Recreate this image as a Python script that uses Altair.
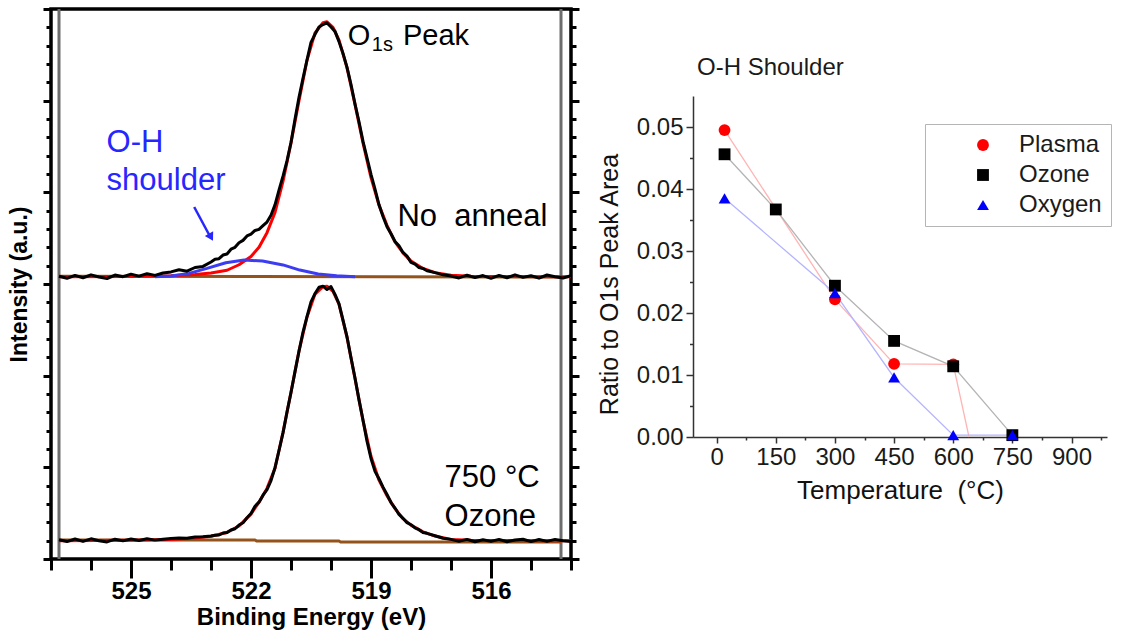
import altair as alt
import pandas as pd

FONT = "Liberation Sans"
TXT_BLUE = "#2626ff"

# ---------------- left panel: O1s XPS spectra ----------------
energy_ev = [526.8, 526.6, 526.4, 526.2, 526.0, 525.8, 525.6, 525.4, 525.2, 525.0,
             524.8, 524.6, 524.4, 524.2, 524.0, 523.8, 523.6, 523.4, 523.2,
             523.0, 522.9, 522.8, 522.7, 522.6, 522.5, 522.4, 522.3, 522.2, 522.1,
             522.0, 521.9, 521.8, 521.7, 521.6, 521.5, 521.4, 521.3, 521.2, 521.1,
             521.0, 520.9, 520.8, 520.7, 520.6, 520.5, 520.4, 520.3, 520.2, 520.1,
             520.0, 519.9, 519.8, 519.7, 519.6, 519.5, 519.4, 519.3, 519.2, 519.1,
             519.0, 518.9, 518.8, 518.7, 518.6, 518.5, 518.4, 518.3, 518.2, 518.1,
             518.0, 517.9, 517.8, 517.7, 517.6,
             517.4, 517.2, 517.0, 516.8, 516.6, 516.4, 516.2, 516.0, 515.8, 515.6,
             515.4, 515.2, 515.0, 514.8, 514.6, 514.4, 514.2, 514.0]

no_anneal_counts = [15.42, 15.31, 15.47, 15.34, 15.50, 15.38, 15.30, 15.49, 15.40, 15.53,
                    15.43, 15.56, 15.47, 15.60, 15.66, 15.78, 15.70, 15.90, 15.96,
                    16.20, 16.35, 16.38, 16.58, 16.64, 16.90, 17.00, 17.25, 17.38, 17.62,
                    17.72, 17.92, 17.98, 18.18, 18.38, 18.75, 19.32, 20.12, 20.88, 21.72,
                    22.72, 23.98, 25.18, 26.22, 27.22, 28.18, 28.62, 29.02, 29.15, 29.24,
                    29.02, 28.78, 28.22, 27.58, 26.82, 25.88, 24.82, 23.85, 22.78, 21.88,
                    20.98, 20.18, 19.32, 18.68, 18.12, 17.74, 17.32, 17.08, 16.72, 16.52,
                    16.18, 16.08, 15.90, 15.85, 15.72,
                    15.62, 15.50, 15.44, 15.33, 15.48, 15.35, 15.46, 15.31, 15.47, 15.34,
                    15.50, 15.36, 15.45, 15.32, 15.49, 15.40, 15.33, 15.46]

ozone750_counts = [1.05, 0.95, 1.09, 0.96, 1.10, 1.00, 0.93, 1.08, 0.99, 1.09,
                   1.01, 1.10, 1.03, 1.08, 1.12, 1.14, 1.13, 1.20, 1.21,
                   1.25, 1.30, 1.31, 1.42, 1.45, 1.58, 1.65, 1.85, 1.98, 2.25,
                   2.48, 2.88, 3.10, 3.48, 3.78, 4.28, 4.98, 5.92, 6.88, 8.02,
                   9.08, 10.22, 11.33, 12.38, 13.22, 14.02, 14.48, 14.82, 14.88, 14.70,
                   14.86, 14.43, 13.92, 13.03, 12.12, 10.98, 9.87, 8.68, 7.58, 6.43,
                   5.48, 4.78, 4.38, 3.92, 3.52, 3.08, 2.78, 2.43, 2.22, 1.98,
                   1.87, 1.70, 1.60, 1.45, 1.40,
                   1.27, 1.13, 1.07, 0.97, 1.07, 0.94, 1.05, 0.96, 1.07, 0.94,
                   1.04, 1.08, 0.95, 1.06, 0.96, 1.07, 1.00, 0.96]

fit_energy = [526.8, 525.0, 524.0, 523.4, 523.0, 522.6, 522.3, 522.0, 521.8, 521.6,
              521.4, 521.2, 521.0, 520.8, 520.6, 520.4, 520.2, 520.1, 519.95, 519.8,
              519.6, 519.4, 519.2, 519.0, 518.8, 518.6, 518.4, 518.2, 518.0, 517.7,
              517.4, 517.0, 516.5, 514.0]
no_anneal_fit = [15.4, 15.41, 15.45, 15.52, 15.6, 15.75, 16.05, 16.5, 17.0, 17.8,
                 18.9, 20.6, 22.7, 25.0, 27.2, 28.7, 29.25, 29.3, 29.0, 28.3,
                 26.8, 24.8, 22.7, 20.8, 19.3, 18.2, 17.3, 16.7, 16.25, 15.85,
                 15.62, 15.48, 15.42, 15.4]
ozone750_fit = [1.0, 1.02, 1.07, 1.15, 1.24, 1.45, 1.8, 2.45, 3.1, 3.85,
                4.95, 6.9, 9.1, 11.35, 13.2, 14.45, 14.85, 14.88, 14.6, 13.9,
                12.1, 9.85, 7.55, 5.6, 4.3, 3.45, 2.75, 2.2, 1.85, 1.48,
                1.25, 1.07, 1.02, 1.0]

shoulder_energy = [524.4, 524.0, 523.55, 523.1, 522.63, 522.17, 521.71, 521.2,
                   520.78, 520.32, 519.86, 519.4]
shoulder_fit = [15.4, 15.44, 15.58, 15.85, 16.16, 16.31, 16.25, 16.04,
                15.76, 15.55, 15.45, 15.4]

bg_upper_energy = [526.8, 514.25]
bg_upper = [15.42, 15.38]
bg_lower_energy = [526.8, 521.9, 521.86, 519.8, 519.76, 514.25]
bg_lower = [1.04, 1.04, 0.98, 0.98, 0.93, 0.93]

window_edges = [526.8, 514.25]

x_ticks_left = [514, 515, 516, 517, 518, 519, 520, 521, 522, 523, 524, 525, 526, 527]
y_ticks_left = list(range(0, 31))

# ---------------- right panel: O-H shoulder ratio ----------------
series_names = ["Plasma", "Ozone", "Oxygen"]
plasma_temp = [20, 300, 450, 600, 640]
plasma_ratio = [0.0495, 0.0222, 0.0118, 0.0117, 0.0]
plasma_marked = [True, True, True, True, False]
ozone_temp = [20, 150, 300, 450, 600, 750]
ozone_ratio = [0.0456, 0.0367, 0.0244, 0.0155, 0.0114, 0.0003]
oxygen_temp = [20, 300, 450, 600, 750]
oxygen_ratio = [0.0385, 0.0232, 0.0096, 0.0003, 0.0003]

x_ticks_right = [0, 75, 150, 225, 300, 375, 450, 525, 600, 675, 750, 825, 900, 975]
y_ticks_right = [0.0, 0.005, 0.01, 0.015, 0.02, 0.025, 0.03, 0.035, 0.04, 0.045, 0.05]

# ================= build left chart =================
xs = alt.Scale(domain=[514, 527], reverse=True, nice=False, zero=False)
ys = alt.Scale(domain=[0, 30], nice=False, zero=False)

upper_df = pd.DataFrame({"E": energy_ev, "I": no_anneal_counts})
lower_df = pd.DataFrame({"E": energy_ev, "I": ozone750_counts})
fit_u_df = pd.DataFrame({"E": fit_energy, "I": no_anneal_fit})
fit_l_df = pd.DataFrame({"E": fit_energy, "I": ozone750_fit})
sh_df = pd.DataFrame({"E": shoulder_energy, "I": shoulder_fit})
bgu_df = pd.DataFrame({"E": bg_upper_energy, "I": bg_upper})
bgl_df = pd.DataFrame({"E": bg_lower_energy, "I": bg_lower})
edge_df = pd.DataFrame({"E": window_edges})
one = pd.DataFrame({"k": [0]})

major_x = "(datum.value - 516) % 3 === 0"
major_y = "datum.value % 5 === 0"

x_axis_left = alt.Axis(
    orient="bottom", values=x_ticks_left, grid=False, domain=False,
    tickSize={"condition": {"test": major_x, "value": 19}, "value": 11},
    tickWidth=3, tickColor="black",
    labelExpr=f"{major_x} ? datum.label : ''", labelOverlap=False,
    labelFont=FONT, labelFontSize=24, labelFontWeight="bold", labelColor="black",
    labelPadding=1,
    title="Binding Energy (eV)", titleFont=FONT, titleFontSize=24,
    titleFontWeight="bold", titleColor="black", titlePadding=2)

y_axis_left = alt.Axis(
    orient="left", values=y_ticks_left, grid=False, domain=False, labels=False,
    tickSize={"condition": {"test": major_y, "value": 8}, "value": 5},
    tickWidth=3, tickColor="black",
    title="Intensity (a.u.)", titleFont=FONT, titleFontSize=23,
    titleFontWeight="bold", titleColor="black", titlePadding=10)

y_axis_right = alt.Axis(
    orient="right", values=y_ticks_left, grid=False, domain=False, labels=False,
    tickSize={"condition": {"test": major_y, "value": 8}, "value": 5},
    tickWidth=3, tickColor="black", title="")


def xq(axis=None):
    if axis is None:
        return alt.X("E:Q", scale=xs, axis=None)
    return alt.X("E:Q", scale=xs, axis=axis)


def yq(axis=None):
    if axis is None:
        return alt.Y("I:Q", scale=ys, axis=None)
    return alt.Y("I:Q", scale=ys, axis=axis)


def curve(df, color, width, xaxis=None, yaxis=None):
    return alt.Chart(df).mark_line(color=color, strokeWidth=width,
                                   strokeJoin="round", clip=True).encode(
        x=xq(xaxis), y=yq(yaxis))


def label(text, e, u, size, color="black"):
    return alt.Chart(one).mark_text(
        text=text, align="left", baseline="alphabetic", font=FONT,
        fontSize=size, color=color).encode(
        x=alt.XDatum(e, scale=xs, axis=None),
        y=alt.YDatum(u, scale=ys, axis=None))


edges = alt.Chart(edge_df).mark_rule(color="#6d6d6d", strokeWidth=3).encode(x=xq())
bg_u = curve(bgu_df, "#94531b", 3, yaxis=y_axis_right)
bg_l = curve(bgl_df, "#94531b", 3)
fit_u = curve(fit_u_df, "#ff0000", 3)
fit_l = curve(fit_l_df, "#ff0000", 3)
shoulder = curve(sh_df, "#3c3cf2", 3)
data_u = curve(upper_df, "#000000", 3, xaxis=x_axis_left, yaxis=y_axis_left)
data_l = curve(lower_df, "#000000", 3)

arrow_line = alt.Chart(one).mark_rule(color=TXT_BLUE, strokeWidth=2.5).encode(
    x=alt.XDatum(523.42, scale=xs, axis=None), x2=alt.X2Datum(523.05),
    y=alt.YDatum(19.2, scale=ys, axis=None), y2=alt.Y2Datum(17.7))
arrow_head = alt.Chart(one).mark_point(
    shape="triangle-up", filled=True, size=90, angle=151, color=TXT_BLUE,
    opacity=1).encode(
    x=alt.XDatum(523.0, scale=xs, axis=None),
    y=alt.YDatum(17.55, scale=ys, axis=None))

left = alt.layer(
    edges, bg_u, bg_l, fit_u, fit_l, shoulder, data_u, data_l,
    label("O", 519.58, 28.04, 29),
    label("1s", 518.98, 27.71, 20),
    label("Peak", 518.2, 28.04, 29),
    label("O-H", 525.61, 22.2, 31, TXT_BLUE),
    label("shoulder", 525.61, 20.13, 31, TXT_BLUE),
    label("No\u00a0 anneal", 518.34, 18.18, 31),
    label("750 °C", 517.16, 3.93, 31),
    label("Ozone", 517.16, 1.82, 31),
    arrow_line, arrow_head,
).properties(
    width=520, height=550,
    view=alt.ViewBackground(stroke="black", strokeWidth=3.5),
).resolve_axis(x="independent", y="independent")

# ================= build right chart =================
rows = []
for t, r, m in zip(plasma_temp, plasma_ratio, plasma_marked):
    rows.append({"series": "Plasma", "T": t, "R": r, "marked": m})
for t, r in zip(ozone_temp, ozone_ratio):
    rows.append({"series": "Ozone", "T": t, "R": r, "marked": True})
for t, r in zip(oxygen_temp, oxygen_ratio):
    rows.append({"series": "Oxygen", "T": t, "R": r, "marked": True})
right_df = pd.DataFrame(rows)

txs = alt.Scale(domain=[-60, 990], nice=False, zero=False)
tys = alt.Scale(domain=[0, 0.055], nice=False, zero=False)

major_t = "datum.value % 150 === 0"
major_r = "round(datum.value * 1000) % 10 === 0"

x_axis_right = alt.Axis(
    values=x_ticks_right, grid=False, domainColor="#333333", domainWidth=1.5,
    tickSize={"condition": {"test": major_t, "value": 6}, "value": 3},
    tickWidth=1.5, tickColor="#333333",
    labelExpr=f"{major_t} ? datum.label : ''", labelOverlap=False,
    labelFont=FONT, labelFontSize=24, labelColor="#1a1a1a", labelPadding=2,
    title="Temperature\u00a0 (°C)", titleFont=FONT, titleFontSize=26,
    titleFontWeight="normal", titleColor="#111111", titlePadding=8)

y_axis_right2 = alt.Axis(
    values=y_ticks_right, grid=False, domainColor="#333333", domainWidth=1.5,
    tickSize={"condition": {"test": major_r, "value": 7}, "value": 3.5},
    tickWidth=1.5, tickColor="#333333",
    labelExpr=f"{major_r} ? format(datum.value, '.2f') : ''", labelOverlap=False,
    labelFont=FONT, labelFontSize=24, labelColor="#1a1a1a", labelPadding=3,
    title="Ratio to O1s Peak Area", titleFont=FONT, titleFontSize=25,
    titleFontWeight="normal", titleColor="#111111", titlePadding=14, titleY=188)

line_colors = ["#ffb4b4", "#b4b4b4", "#b4b4ff"]
marker_colors = ["#ff0000", "#000000", "#0000ff"]
marker_shapes = ["circle", "square", "triangle-up"]

legend = alt.Legend(
    title=None, orient="none", legendX=232, legendY=28, direction="vertical",
    labelFont=FONT, labelFontSize=24, labelColor="#1a1a1a",
    symbolSize=140, strokeColor="#b5b5b5", fillColor="white",
    padding=9, rowPadding=6, symbolOffset=37, labelOffset=24)

line_layers = []
for i, name in enumerate(series_names):
    enc = {"x": alt.X("T:Q", scale=txs, axis=x_axis_right if i == 0 else None),
           "y": alt.Y("R:Q", scale=tys, axis=y_axis_right2 if i == 0 else None)}
    line_layers.append(
        alt.Chart(right_df).transform_filter(alt.datum.series == name)
        .mark_line(strokeWidth=1.3, color=line_colors[i]).encode(**enc))

points = alt.Chart(right_df).transform_filter("datum.marked").mark_point(
    filled=True, size=140, opacity=1).encode(
    x=alt.X("T:Q", scale=txs, axis=None),
    y=alt.Y("R:Q", scale=tys, axis=None),
    color=alt.Color("series:N", scale=alt.Scale(domain=series_names, range=marker_colors),
                    legend=legend),
    shape=alt.Shape("series:N", scale=alt.Scale(domain=series_names, range=marker_shapes),
                    legend=legend))

right = alt.layer(*line_layers, points).properties(
    width=414, height=341,
    title=alt.TitleParams("O-H Shoulder", anchor="start", frame="group", font=FONT,
                          fontSize=24, fontWeight="normal", color="#1a1a1a",
                          offset=16, dx=4),
    view=alt.ViewBackground(stroke="transparent"),
).resolve_axis(x="independent", y="independent")

spacer = alt.Chart(one).mark_text(text="").properties(
    width=1, height=45, view=alt.ViewBackground(stroke="transparent"))

right_col = alt.vconcat(spacer, right, spacing=0).resolve_scale(
    color="independent", shape="independent")

chart = alt.hconcat(left, right_col, spacing=13).resolve_scale(
    color="independent", shape="independent"
).properties(
    padding={"left": 6, "top": 5, "right": 0, "bottom": 0},
    background="white",
).configure(font=FONT).configure_view(stroke="transparent")

chart.save("out.html", embed_options={"renderer": "svg", "actions": False})
